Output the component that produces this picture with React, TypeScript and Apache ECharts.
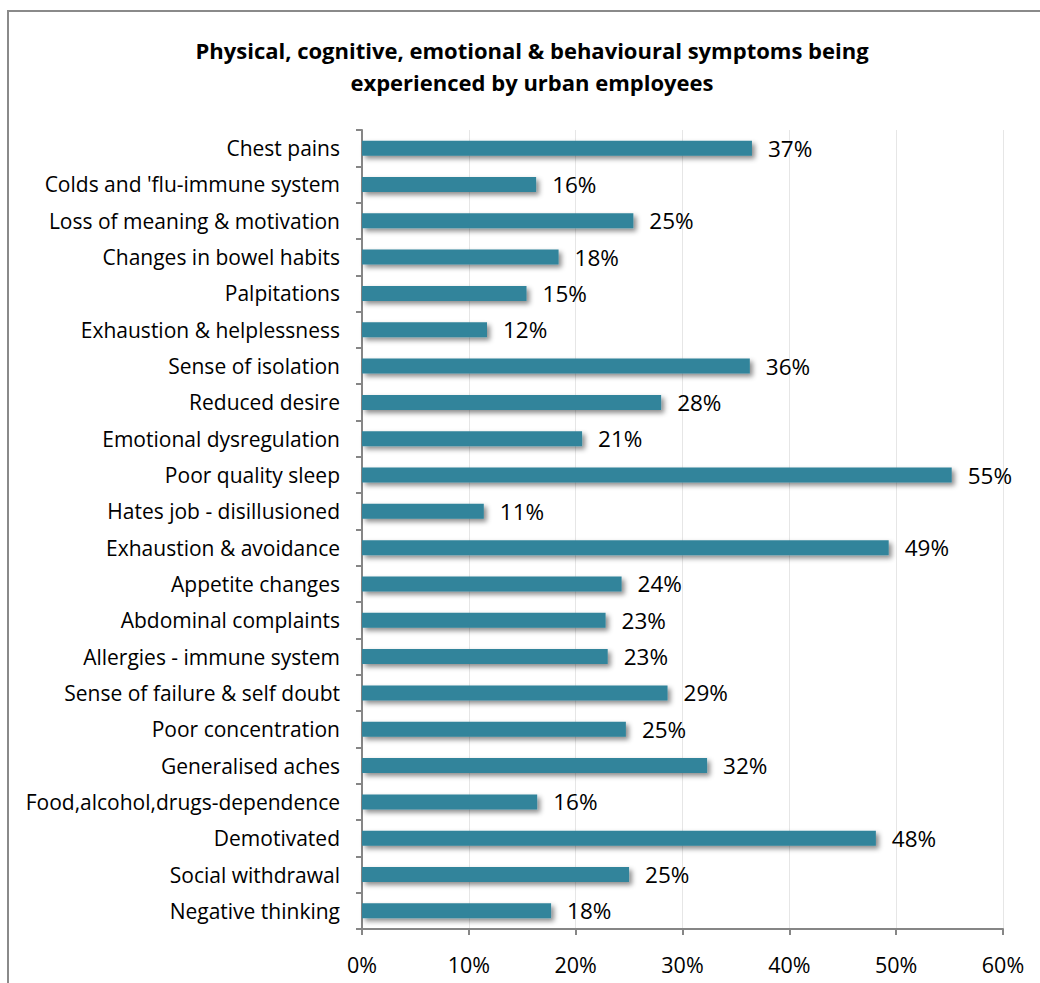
import React, { useEffect, useRef } from "react";
import * as echarts from "echarts";

const categories = [
  "Chest pains",
  "Colds and 'flu-immune system",
  "Loss of meaning & motivation",
  "Changes in bowel habits",
  "Palpitations",
  "Exhaustion & helplessness",
  "Sense of isolation",
  "Reduced desire",
  "Emotional dysregulation",
  "Poor quality sleep",
  "Hates job - disillusioned",
  "Exhaustion & avoidance",
  "Appetite changes",
  "Abdominal complaints",
  "Allergies - immune system",
  "Sense of failure & self doubt",
  "Poor concentration",
  "Generalised aches",
  "Food,alcohol,drugs-dependence",
  "Demotivated",
  "Social withdrawal",
  "Negative thinking",
];

const values = [
  36.5, 16.3, 25.4, 18.4, 15.4, 11.7, 36.3, 28.0, 20.6, 55.2, 11.4, 49.3, 24.3,
  22.8, 23.0, 28.6, 24.7, 32.3, 16.4, 48.1, 25.0, 17.7,
];

const titleLines = [
  "Physical, cognitive, emotional & behavioural symptoms being",
  "experienced by urban employees",
];

const xTicks = [0, 10, 20, 30, 40, 50, 60];

const FONT = "Open Sans";

export default function App() {
  const ref = useRef<HTMLDivElement>(null);
  useEffect(() => {
    document.body.style.margin = "0";
    if (!ref.current) return;
    const chart = echarts.init(ref.current, undefined, { renderer: "svg" });
    chart.setOption({
      animation: false,
      backgroundColor: "#ffffff",
      textStyle: { fontFamily: FONT },
      graphic: [
        {
          type: "rect",
          shape: { x: 8, y: 11, width: 1040, height: 1000 },
          style: { fill: "none", stroke: "#8a8a8a", lineWidth: 2 },
          silent: true,
        },
        {
          type: "text",
          x: 532,
          y: 66,
          style: {
            text: titleLines.join("\n"),
            fontFamily: FONT,
            fontWeight: "bold",
            fontSize: 22,
            lineHeight: 32,
            fill: "#000",
            align: "center",
            verticalAlign: "middle",
          },
        },
      ],
      grid: { left: 362, right: 37, top: 130, bottom: 54, containLabel: false },
      xAxis: {
        type: "value",
        min: 0,
        max: 60,
        interval: 10,
        axisLine: { show: true, lineStyle: { color: "#868686", width: 2 } },
        axisTick: { show: true, length: 6, lineStyle: { color: "#868686", width: 2 } },
        axisLabel: {
          formatter: (v: number) => (xTicks.includes(v) ? v + "%" : ""),
          fontSize: 21.5,
          color: "#000",
          margin: 24,
          fontFamily: FONT,
        },
        splitLine: { show: true, lineStyle: { color: "#e6e6e6", width: 1 } },
      },
      yAxis: {
        type: "category",
        data: categories,
        inverse: true,
        axisLine: { show: true, lineStyle: { color: "#868686", width: 2 } },
        axisTick: { show: true, length: 6, lineStyle: { color: "#868686", width: 2 } },
        axisLabel: { fontSize: 21, color: "#000", margin: 22, fontFamily: FONT },
        splitLine: { show: false },
      },
      series: [
        {
          type: "bar",
          data: values,
          barWidth: 15,
          itemStyle: {
            color: "#31849b",
            shadowColor: "rgba(0,0,0,0.45)",
            shadowBlur: 5,
            shadowOffsetX: 3,
            shadowOffsetY: 3,
          },
          label: {
            show: true,
            position: "right",
            distance: 16,
            formatter: (p: any) => Math.round(p.value) + "%",
            fontSize: 22.5,
            color: "#000",
            fontFamily: FONT,
          },
        },
      ],
    });
    return () => chart.dispose();
  }, []);
  return <div ref={ref} style={{ width: 1040, height: 983 }} />;
}
